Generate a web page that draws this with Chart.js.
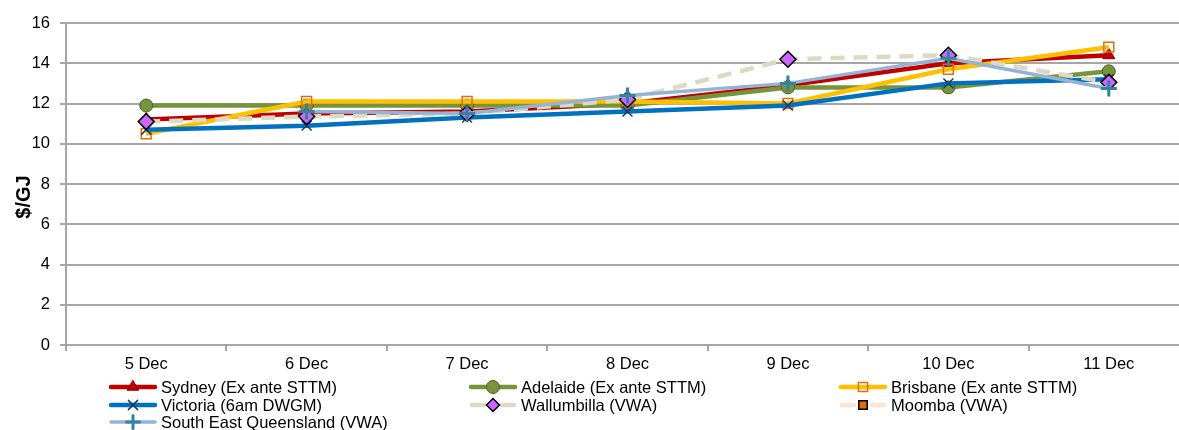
<!DOCTYPE html>
<html>
<head>
<meta charset="utf-8">
<script src="https://cdn.jsdelivr.net/npm/chart.js@4/dist/chart.umd.min.js"></script>
<style>
  html, body { margin: 0; padding: 0; background: #fff; overflow: hidden; }
  #wrap { width: 1200px; height: 430px; }
</style>
</head>
<body>
<div id="wrap"><canvas id="priceChart"></canvas></div>
<script>
const days = ['5 Dec', '6 Dec', '7 Dec', '8 Dec', '9 Dec', '10 Dec', '11 Dec'];
const sydney = [11.2, 11.5, 11.6, 12.0, 12.9, 14.0, 14.4];
const adelaide = [11.9, 11.9, 11.9, 11.9, 12.8, 12.8, 13.6];
const brisbane = [10.5, 12.1, 12.1, 12.1, 12.0, 13.7, 14.8];
const victoria = [10.7, 10.9, 11.3, 11.6, 11.9, 13.0, 13.2];
const wallumbilla = [11.1, 11.35, 11.5, 12.2, 14.2, 14.4, 13.05];
const moomba = [null, null, null, null, null, null, null];
const seq = [null, 11.6, 11.5, 12.4, 13.0, 14.25, 12.75];
const yTicks = [0, 2, 4, 6, 8, 10, 12, 14, 16];
const yTitle = '$/GJ';

const FONT = 'Liberation Sans, Arial, sans-serif';

function series(label, data, color, width, style, radius, fill, border, bw, dash) {
    return {
        label, data,
        borderColor: color, backgroundColor: fill, borderWidth: width,
        borderDash: dash || [], tension: 0, spanGaps: false,
        pointStyle: style, pointRadius: radius, pointHoverRadius: radius,
        pointBackgroundColor: fill, pointBorderColor: border, pointBorderWidth: bw
    };
}

const datasets = [
    series('Sydney (Ex ante STTM)', sydney, '#C00000', 4.5, 'triangle', 7, '#C00000', '#8B0000', 1),
    series('Adelaide (Ex ante STTM)', adelaide, '#77933C', 4.5, 'circle', 6.5, '#77933C', '#4F6228', 1),
    series('Brisbane (Ex ante STTM)', brisbane, '#FFC000', 4.5, 'rect', 7, 'rgba(0,0,0,0)', '#E46C0A', 1.5),
    series('Victoria (6am DWGM)', victoria, '#0070C0', 4.5, 'crossRot', 7, '#1F3864', '#1F3864', 1.5),
    series('Wallumbilla (VWA)', wallumbilla, '#DDD9C3', 4.5, 'rectRot', 8, '#CC66FF', '#000000', 1.5, [14, 9]),
    series('Moomba (VWA)', moomba, '#FCE4D6', 4.5, 'rect', 6, '#E46C0A', '#000000', 1.5, [14, 9]),
    series('South East Queensland (VWA)', seq, '#95B3D7', 3.5, 'cross', 8, '#31849B', '#31849B', 3)
];
// later series drawn on top, as in the source
datasets.forEach((d, i) => { d.order = datasets.length - i; });

const legendPlugin = {
    id: 'gridLegend',
    afterDraw(chart) {
        const ctx = chart.ctx;
        const cols = [110, 470, 840];
        const rows = [387, 405, 422];
        chart.data.datasets.forEach((d, i) => {
            const x = cols[i % 3], y = rows[Math.floor(i / 3)];
            ctx.save();
            ctx.strokeStyle = d.borderColor;
            ctx.lineWidth = d.borderWidth;
            ctx.lineCap = 'round';
            ctx.beginPath();
            if (d.borderDash.length) {
                ctx.moveTo(x + 2, y); ctx.lineTo(x + 14, y);
                ctx.moveTo(x + 32, y); ctx.lineTo(x + 44, y);
            } else {
                ctx.moveTo(x + 1, y); ctx.lineTo(x + 45, y);
            }
            ctx.stroke();
            ctx.fillStyle = d.pointBackgroundColor;
            ctx.strokeStyle = d.pointBorderColor;
            ctx.lineWidth = d.pointBorderWidth;
            Chart.helpers.drawPoint(ctx, {
                pointStyle: d.pointStyle, rotation: 0,
                radius: Math.min(d.pointRadius, 6.5), borderWidth: d.pointBorderWidth
            }, x + 23, y);
            ctx.fillStyle = '#000';
            ctx.font = '16.5px ' + FONT;
            ctx.textBaseline = 'middle';
            ctx.fillText(d.label, x + 51, y + 1);
            ctx.restore();
        });
        // y axis title, sits a little below the middle like the source
        ctx.save();
        ctx.translate(24, 197);
        ctx.rotate(-Math.PI / 2);
        ctx.font = 'bold 20px ' + FONT;
        ctx.fillStyle = '#000';
        ctx.textAlign = 'center';
        ctx.textBaseline = 'middle';
        ctx.fillText(yTitle, 0, 0);
        ctx.restore();
    }
};

new Chart(document.getElementById('priceChart'), {
    type: 'line',
    data: { labels: days, datasets },
    options: {
        responsive: true, maintainAspectRatio: false, animation: false,
        layout: { padding: { left: 0, right: 10, top: 23, bottom: 0 } },
        plugins: { legend: { display: false }, tooltip: { enabled: false } },
        scales: {
            x: {
                offset: true,
                grid: { offset: true, drawOnChartArea: false, drawTicks: true, tickLength: 6, color: '#A6A6A6', lineWidth: 2 },
                border: { color: '#A6A6A6', width: 2 },
                ticks: { color: '#000', font: { family: FONT, size: 16.5 }, padding: 4, maxRotation: 0 },
                afterFit: s => { s.height = 85; }
            },
            y: {
                min: 0, max: 16,
                afterBuildTicks: s => { s.ticks = yTicks.map(v => ({ value: v })); },
                grid: { color: '#A6A6A6', lineWidth: 2, drawTicks: true, tickLength: 6 },
                border: { color: '#A6A6A6', width: 2 },
                ticks: { color: '#000', font: { family: FONT, size: 16.5 }, padding: 10 },
                afterFit: s => { s.width = 66; }
            }
        }
    },
    plugins: [legendPlugin]
});
</script>
</body>
</html>
